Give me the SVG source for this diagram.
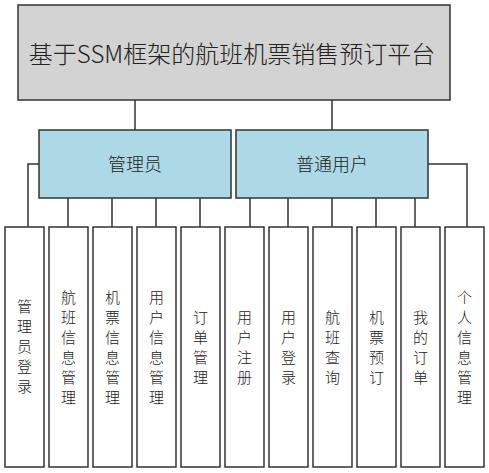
<svg xmlns="http://www.w3.org/2000/svg" width="489" height="473" viewBox="0 0 489 473">
<style>
.box{stroke:#333;stroke-width:1.5}
.top{fill:#d3d3d3}
.role{fill:#add8e6}
.leaf{fill:#fff}
.conn{fill:none;stroke:#333;stroke-width:1.5}
text{font-family:"Microsoft YaHei","Noto Sans CJK SC","Noto Sans",sans-serif;fill:#222;text-anchor:middle;dominant-baseline:central;font-weight:300}
.t1{font-size:24px}
.t2{font-size:18px}
.t3{font-size:15px}
</style>
<rect width="489" height="473" fill="#fff"/>
<g id="connectors">
<path class="conn" d="M135 100V130M332 100V130"/>
<path class="conn" d="M39 164H28V227M428 164H467V227"/>
<path class="conn" d="M68 198V227M112 198V227M156 198V227M200 198V227"/>
<path class="conn" d="M250 198V227M288 198V227M332 198V227M376 198V227M415 198V227"/>
</g>
<g id="root"><rect class="box top" x="18" y="5" width="432" height="95"/><text class="t1" x="232" y="52">基于SSM框架的航班机票销售预订平台</text></g>
<g id="admin"><rect class="box role" x="39" y="130" width="192" height="68"/><text class="t2" x="135" y="163">管理员</text></g>
<g id="user"><rect class="box role" x="236" y="130" width="192" height="68"/><text class="t2" x="332" y="163">普通用户</text></g>
<g id="leaf1"><rect class="box leaf" x="5" y="227" width="39" height="240"/><text class="t3"><tspan x="24.5" y="305">管</tspan><tspan x="24.5" y="325">理</tspan><tspan x="24.5" y="345">员</tspan><tspan x="24.5" y="365">登</tspan><tspan x="24.5" y="385">录</tspan></text></g>
<g id="leaf2"><rect class="box leaf" x="49" y="227" width="39" height="240"/><text class="t3"><tspan x="68.5" y="296">航</tspan><tspan x="68.5" y="316">班</tspan><tspan x="68.5" y="336">信</tspan><tspan x="68.5" y="356">息</tspan><tspan x="68.5" y="376">管</tspan><tspan x="68.5" y="396">理</tspan></text></g>
<g id="leaf3"><rect class="box leaf" x="93" y="227" width="39" height="240"/><text class="t3"><tspan x="112.5" y="296">机</tspan><tspan x="112.5" y="316">票</tspan><tspan x="112.5" y="336">信</tspan><tspan x="112.5" y="356">息</tspan><tspan x="112.5" y="376">管</tspan><tspan x="112.5" y="396">理</tspan></text></g>
<g id="leaf4"><rect class="box leaf" x="137" y="227" width="39" height="240"/><text class="t3"><tspan x="156.5" y="296">用</tspan><tspan x="156.5" y="316">户</tspan><tspan x="156.5" y="336">信</tspan><tspan x="156.5" y="356">息</tspan><tspan x="156.5" y="376">管</tspan><tspan x="156.5" y="396">理</tspan></text></g>
<g id="leaf5"><rect class="box leaf" x="181" y="227" width="39" height="240"/><text class="t3"><tspan x="200.5" y="316">订</tspan><tspan x="200.5" y="336">单</tspan><tspan x="200.5" y="356">管</tspan><tspan x="200.5" y="376">理</tspan></text></g>
<g id="leaf6"><rect class="box leaf" x="225" y="227" width="39" height="240"/><text class="t3"><tspan x="244.5" y="316">用</tspan><tspan x="244.5" y="336">户</tspan><tspan x="244.5" y="356">注</tspan><tspan x="244.5" y="376">册</tspan></text></g>
<g id="leaf7"><rect class="box leaf" x="269" y="227" width="39" height="240"/><text class="t3"><tspan x="288.5" y="316">用</tspan><tspan x="288.5" y="336">户</tspan><tspan x="288.5" y="356">登</tspan><tspan x="288.5" y="376">录</tspan></text></g>
<g id="leaf8"><rect class="box leaf" x="313" y="227" width="39" height="240"/><text class="t3"><tspan x="332.5" y="316">航</tspan><tspan x="332.5" y="336">班</tspan><tspan x="332.5" y="356">查</tspan><tspan x="332.5" y="376">询</tspan></text></g>
<g id="leaf9"><rect class="box leaf" x="357" y="227" width="39" height="240"/><text class="t3"><tspan x="376.5" y="316">机</tspan><tspan x="376.5" y="336">票</tspan><tspan x="376.5" y="356">预</tspan><tspan x="376.5" y="376">订</tspan></text></g>
<g id="leaf10"><rect class="box leaf" x="401" y="227" width="39" height="240"/><text class="t3"><tspan x="420.5" y="316">我</tspan><tspan x="420.5" y="336">的</tspan><tspan x="420.5" y="356">订</tspan><tspan x="420.5" y="376">单</tspan></text></g>
<g id="leaf11"><rect class="box leaf" x="445" y="227" width="39" height="240"/><text class="t3"><tspan x="464.5" y="296">个</tspan><tspan x="464.5" y="316">人</tspan><tspan x="464.5" y="336">信</tspan><tspan x="464.5" y="356">息</tspan><tspan x="464.5" y="376">管</tspan><tspan x="464.5" y="396">理</tspan></text></g>
</svg>
